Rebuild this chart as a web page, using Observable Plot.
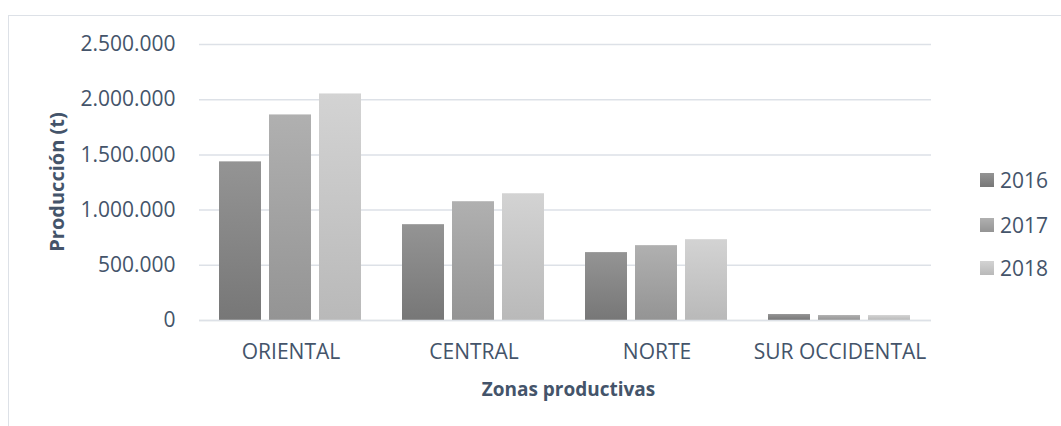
<!DOCTYPE html>
<html>
<head>
<meta charset="utf-8">
<script src="https://cdn.jsdelivr.net/npm/d3@7"></script>
<script src="https://cdn.jsdelivr.net/npm/@observablehq/plot@0.6"></script>
<style>
  html, body { margin: 0; padding: 0; background: #fff; overflow: hidden; }
  #wrap { position: relative; width: 1061px; height: 426px; overflow: hidden; font-family: "Open Sans", sans-serif; color: #44546a; }
  #frame { position: absolute; left: 8px; top: 15px; width: 1200px; height: 600px; border-left: 1.5px solid #dde1e7; border-top: 1.5px solid #dde1e7; box-sizing: border-box; }
  #chart { position: absolute; left: 0; top: 0; }
  #legend { position: absolute; left: 980px; top: 0; }
  .lg-row { position: absolute; left: 0; display: flex; align-items: center; white-space: nowrap; font-size: 21px; transform: translateY(-50%); }
  .lg-sw { width: 14px; height: 14px; margin-right: 6px; }
</style>
</head>
<body>
<div id="wrap">
  <div id="frame"></div>
  <div id="chart"></div>
  <div id="legend"></div>
</div>
<script>
// ---- data ----
const zones = ["ORIENTAL", "CENTRAL", "NORTE", "SUR OCCIDENTAL"];
const years = ["2016", "2017", "2018"];
const prod2016 = [1437000, 868000, 615000, 54000];
const prod2017 = [1862000, 1076000, 678000, 45000];
const prod2018 = [2052000, 1148000, 732000, 45000];
const yTicks = [0, 500000, 1000000, 1500000, 2000000, 2500000];
const yTitle = "Producción (t)";
const xTitle = "Zonas productivas";

// ---- styles ----
const gradTop = ["#949494", "#b0b0b0", "#d3d3d3"];
const gradBottom = ["#777777", "#949494", "#b9b9b9"];
const textColor = "#44546a";
const gridColor = "#dde1e7";

const series = [prod2016, prod2017, prod2018];
const rows = [];
zones.forEach((z, i) => years.forEach((y, j) => rows.push({zone: z, year: y, value: series[j][i]})));

const esLocale = d3.formatLocale({decimal: ",", thousands: ".", grouping: [3], currency: ["", " €"]});
const fmt = esLocale.format(",");

const W = 1061, H = 426;
const mL = 197, mR = 129, mT = 44, mB = 106;

const svg = Plot.plot({
  width: W, height: H,
  marginLeft: mL, marginRight: mR, marginTop: mT, marginBottom: mB,
  style: {fontFamily: "Open Sans", fontSize: "21px", color: textColor, background: "transparent", overflow: "visible"},
  fx: {domain: zones, padding: 0, label: null},
  x: {domain: years, paddingInner: 0.158, paddingOuter: 0.398, axis: null},
  y: {domain: [0, 2500000], axis: null},
  color: {domain: years, range: years.map(y => `url(#grad-${y})`)},
  marks: [
    Plot.gridY(yTicks, {stroke: gridColor, strokeOpacity: 1, strokeWidth: 1.5}),
    Plot.barY(rows, {fx: "zone", x: "year", y: "value", fill: "year"}),
    Plot.ruleY([0], {stroke: gridColor, strokeWidth: 1.5}),
    Plot.axisY(yTicks, {tickSize: 0, tickPadding: 24, tickFormat: fmt, label: null, fill: textColor, fontSize: 21}),
    Plot.axisFx({anchor: "bottom", tickSize: 0, tickPadding: 24, label: null, fill: textColor, fontSize: 21})
  ]
});

const s = d3.select(svg);
const defs = s.insert("defs", ":first-child");
years.forEach((y, j) => {
  const g = defs.append("linearGradient").attr("id", `grad-${y}`)
    .attr("x1", 0).attr("y1", 0).attr("x2", 0).attr("y2", 1);
  g.append("stop").attr("offset", "0%").attr("stop-color", gradTop[j]);
  g.append("stop").attr("offset", "100%").attr("stop-color", gradBottom[j]);
});

// axis titles
s.append("text")
  .attr("transform", `translate(64, ${(mT + (H - mB)) / 2}) rotate(-90)`)
  .attr("text-anchor", "middle")
  .attr("fill", textColor)
  .style("font-family", "Open Sans").style("font-size", "20px").style("font-weight", "bold")
  .text(yTitle);
s.append("text")
  .attr("x", (mL + (W - mR)) / 2 + 4)
  .attr("y", 396)
  .attr("text-anchor", "middle")
  .attr("fill", textColor)
  .style("font-family", "Open Sans").style("font-size", "19px").style("font-weight", "bold")
  .text(xTitle);

document.getElementById("chart").appendChild(svg);

// legend
const lg = document.getElementById("legend");
const rowY = [180, 224.5, 268];
years.forEach((y, j) => {
  const r = document.createElement("div");
  r.className = "lg-row";
  r.style.top = rowY[j] + "px";
  const sw = document.createElement("div");
  sw.className = "lg-sw";
  sw.style.background = `linear-gradient(${gradTop[j]}, ${gradBottom[j]})`;
  const t = document.createElement("span");
  t.textContent = y;
  r.appendChild(sw); r.appendChild(t);
  lg.appendChild(r);
});
</script>
</body>
</html>
